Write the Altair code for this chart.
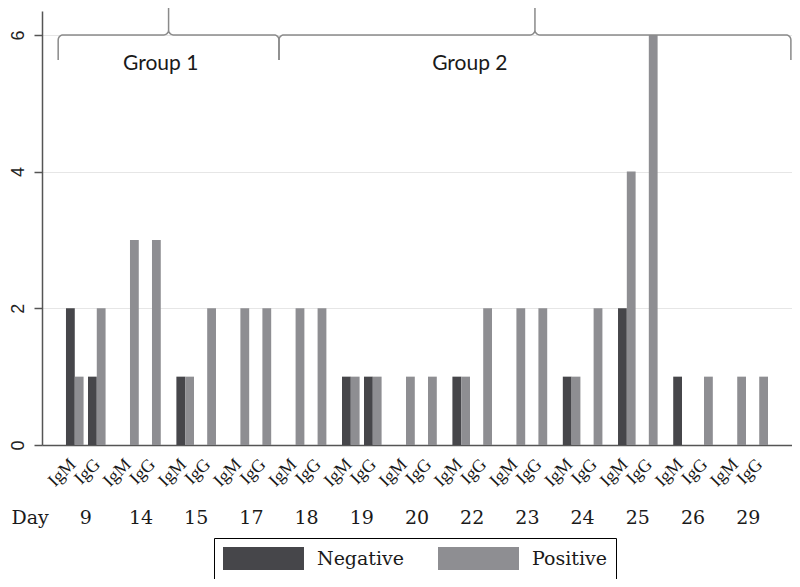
import numpy as np
import pandas as pd
import altair as alt

# ---- data ----
days = ["9", "14", "15", "17", "18", "19", "20", "22", "23", "24", "25", "26", "29"]
igm_negative = [2, 0, 1, 0, 0, 1, 0, 1, 0, 1, 2, 1, 0]
igm_positive = [1, 3, 1, 2, 2, 1, 1, 1, 2, 1, 4, 0, 1]
igg_negative = [1, 0, 0, 0, 0, 1, 0, 0, 0, 0, 0, 0, 0]
igg_positive = [2, 3, 2, 2, 2, 1, 1, 2, 2, 2, 6, 1, 1]
results = ["Negative", "Positive"]
antibodies = ["IgM", "IgG"]
groups = ["Group 1", "Group 2"]
group_first_day = ["9", "18"]
group_last_day = ["17", "29"]

rows = []
for ig, res, vals in [("IgM", "Negative", igm_negative), ("IgM", "Positive", igm_positive),
                      ("IgG", "Negative", igg_negative), ("IgG", "Positive", igg_positive)]:
    for d, v in zip(days, vals):
        rows.append({"Day": d, "Ig": ig, "Result": res, "Count": v})
df = pd.DataFrame(rows)

lab_df = pd.DataFrame([{"Day": d, "Ig": ig} for d in days for ig in antibodies])

# ---- layout ----
W, H = 750, 434
PO = 0.293                      # outer padding of the day band scale (in steps)
UMAX = len(days) + 2 * PO       # continuous twin of the band scale
YMAX = 6.35
step_px = W / UMAX
px_per_v = H / YMAX

NEG = "#46464a"
POS = "#8e8e92"
SERIF = "DejaVu Serif"

xscale = alt.Scale(type="band", domain=days, paddingInner=0, paddingOuter=PO)
yscale = alt.Scale(domain=[0, YMAX], nice=False, zero=True)
cscale = alt.Scale(domain=results, range=[NEG, POS])

x_axis = alt.Axis(
    title="Day", labelAngle=0, ticks=False, tickSize=0, labelPadding=72,
    labelBaseline="middle", labelFont=SERIF, labelFontSize=19, labelColor="#1a1a1a",
    domainColor="#555555", domainWidth=1.5, grid=False,
    titleFont=SERIF, titleFontSize=19, titleFontWeight="normal", titleColor="#1a1a1a",
    titleX=-31, titleY=72, titleAlign="left", titleBaseline="middle", titleAngle=0,
)
y_axis = alt.Axis(
    title=None, values=[0, 2, 4, 6], labelAngle=270, labelAlign="center",
    labelBaseline="alphabetic", labelPadding=11, tickSize=8, tickColor="#555555",
    tickWidth=1.5, domainColor="#555555", domainWidth=1.5,
    labelFont="Liberation Sans", labelFontSize=18, labelColor="#222222",
    grid=True, gridColor="#e6e6e6", gridWidth=1,
)

SW, SH = 81, 23   # legend swatch size
half = SH / 2
legend = alt.Legend(
    title=None, orient="none", legendX=172, legendY=527, direction="horizontal",
    symbolType=f"M-1,-1L{SW / half - 1:.3f},-1L{SW / half - 1:.3f},1L-1,1Z",
    symbolSize=SH * SH,
    symbolStrokeWidth=0, symbolOpacity=1, labelFont=SERIF, labelFontSize=19,
    labelColor="#1a1a1a", labelOffset=SW - SH + 13, columnPadding=33, padding=9,
    strokeColor="#000000", cornerRadius=0,
)

BAR_W = 8.8
bar_specs = [("IgM", "Negative", -15.4), ("IgM", "Positive", -6.6),
             ("IgG", "Negative", 6.6), ("IgG", "Positive", 15.4)]

layers = []
for i, (ig, res, off) in enumerate(bar_specs):
    first = i == 0
    layers.append(
        alt.Chart(df)
        .transform_filter((alt.datum.Ig == ig) & (alt.datum.Result == res) & (alt.datum.Count > 0))
        .mark_bar(width=BAR_W, xOffset=off)
        .encode(
            x=alt.X("Day:N", scale=xscale, axis=x_axis if first else None),
            y=alt.Y("Count:Q", scale=yscale, axis=y_axis, title=None),
            color=alt.Color("Result:N", scale=cscale, legend=legend if first else None),
        )
    )

for ig, off in [("IgM", -12.5), ("IgG", 11.8)]:
    layers.append(
        alt.Chart(lab_df)
        .transform_filter(alt.datum.Ig == ig)
        .mark_text(angle=315, align="right", baseline="middle", xOffset=off,
                   font="Liberation Serif", fontSize=18, color="#1a1a1a")
        .encode(
            x=alt.X("Day:N", scale=xscale, axis=None, bandPosition=0.5),
            y=alt.value(H + 17),
            text="Ig:N",
        )
    )

# ---- braces (annotation), in band-step units u and value units v ----
top = 6.0
drop = 25 / px_per_v
rise = 27 / px_per_v
rx = 5 / step_px
ry = 5 / px_per_v

def brace_points(a, b):
    m = (a + b) / 2
    pts = [(a, top - drop)]
    for t in np.linspace(np.pi, np.pi / 2, 8):
        pts.append((a + rx + rx * np.cos(t), top - ry + ry * np.sin(t)))
    for t in np.linspace(-np.pi / 2, 0, 8):
        pts.append((m - rx + rx * np.cos(t), top + ry + ry * np.sin(t)))
    pts.append((m, top + rise))
    for t in np.linspace(np.pi, 1.5 * np.pi, 8):
        pts.append((m + rx + rx * np.cos(t), top + ry + ry * np.sin(t)))
    for t in np.linspace(np.pi / 2, 0, 8):
        pts.append((b - rx + rx * np.cos(t), top - ry + ry * np.sin(t)))
    pts.append((b, top - drop))
    return pts

brace_rows = []
for g, d0, d1 in zip(groups, group_first_day, group_last_day):
    a = PO + days.index(d0)
    b = PO + days.index(d1) + 1
    if d1 == days[-1]:
        b = UMAX - 0.02
    for k, (u, v) in enumerate(brace_points(a, b)):
        brace_rows.append({"group": g, "i": k, "u": u, "v": v})
brace_df = pd.DataFrame(brace_rows)

uscale = alt.Scale(domain=[0, UMAX], nice=False, zero=False)

layers.append(
    alt.Chart(brace_df).mark_line(color="#8a8a8a", strokeWidth=1.5).encode(
        x=alt.X("u:Q", scale=uscale, axis=None),
        y=alt.Y("v:Q", scale=yscale, axis=y_axis, title=None),
        detail="group:N",
        order="i:Q",
    )
)

group_label_u = [2.15, 7.75]
group_label_v = [5.58, 5.58]
glab_df = pd.DataFrame({"label": groups, "u": group_label_u, "v": group_label_v})
layers.append(
    alt.Chart(glab_df).mark_text(
        font="Lato", fontSize=21, color="#1a1a1a", align="center", baseline="middle"
    ).encode(
        x=alt.X("u:Q", scale=uscale, axis=None),
        y=alt.Y("v:Q", scale=yscale, axis=y_axis, title=None),
        text="label:N",
    )
)

chart = (
    alt.layer(*layers)
    .resolve_scale(x="independent")
    .properties(
        width=W, height=H,
        autosize=alt.AutoSizeParams(type="none"),
        padding={"left": 34, "top": 3, "right": 0, "bottom": 134},
        background="white",
    )
    .configure_view(stroke=None)
)

chart.save("out.html", embed_options={"renderer": "svg", "actions": False})
